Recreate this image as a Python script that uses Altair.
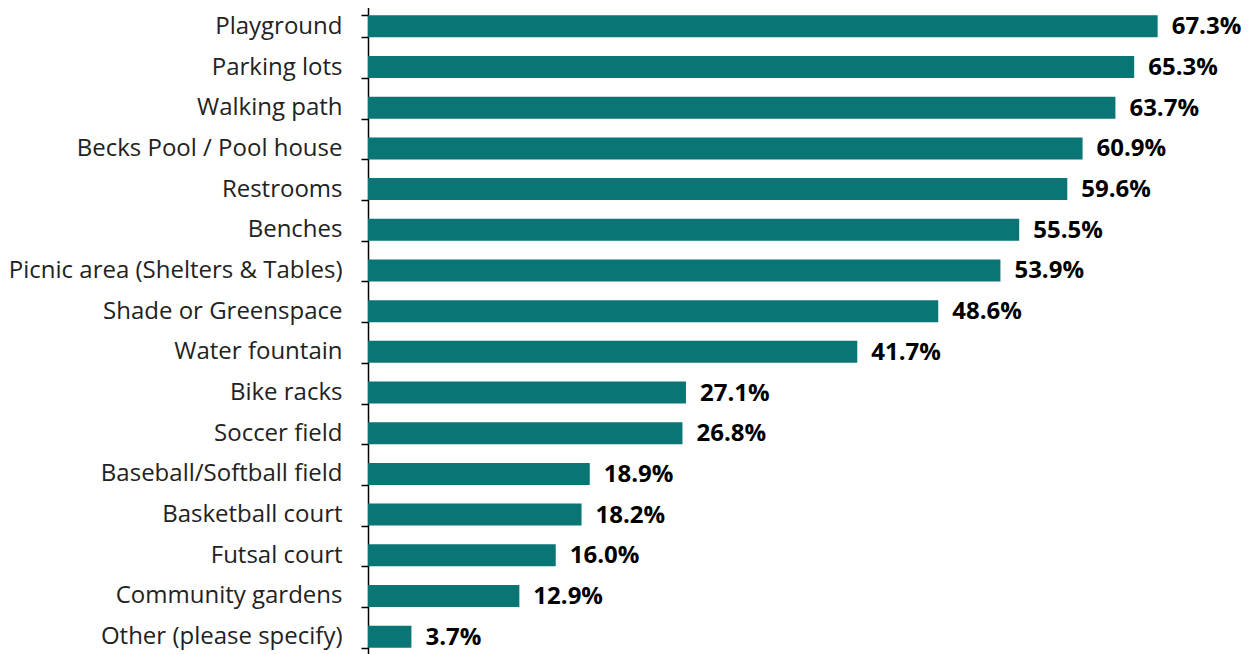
import altair as alt
import pandas as pd

categories = [
    "Playground", "Parking lots", "Walking path", "Becks Pool / Pool house",
    "Restrooms", "Benches", "Picnic area (Shelters & Tables)",
    "Shade or Greenspace", "Water fountain", "Bike racks", "Soccer field",
    "Baseball/Softball field", "Basketball court", "Futsal court",
    "Community gardens", "Other (please specify)",
]
values = [67.3, 65.3, 63.7, 60.9, 59.6, 55.5, 53.9, 48.6, 41.7, 27.1, 26.8,
          18.9, 18.2, 16.0, 12.9, 3.7]

df = pd.DataFrame({"cat": categories, "val": values})
df["label"] = [f"{v:.1f}%" for v in values]

FONT = "Open Sans"

y = alt.Y(
    "cat:N", sort=categories, title=None,
    scale=alt.Scale(paddingInner=0.46, paddingOuter=0.23),
    axis=alt.Axis(
        tickBand="extent", tickSize=7, tickColor="#000", domainColor="#000",
        tickWidth=1.5, domainWidth=1.5,
        labelFont=FONT, labelFontSize=24, labelColor="#222",
        labelPadding=19, labelLimit=400,
    ),
)
x = alt.X("val:Q", title=None, scale=alt.Scale(domain=[0, 75], nice=False), axis=None)

bars = alt.Chart(df).mark_bar(color="#0A7575").encode(x=x, y=y)
text = alt.Chart(df).mark_text(
    align="left", baseline="middle", dx=14, dy=1, font=FONT, fontSize=24,
    fontWeight="bold", color="#000",
).encode(x=x, y=y, text="label:N")

chart = (bars + text).properties(
    width=880, height=651,
    autosize=alt.AutoSizeParams(type="none"),
    padding={"left": 360, "top": -2, "right": -7, "bottom": 0},
).configure_view(stroke=None)

chart.save("out.html", embed_options={"renderer": "svg", "actions": False})
